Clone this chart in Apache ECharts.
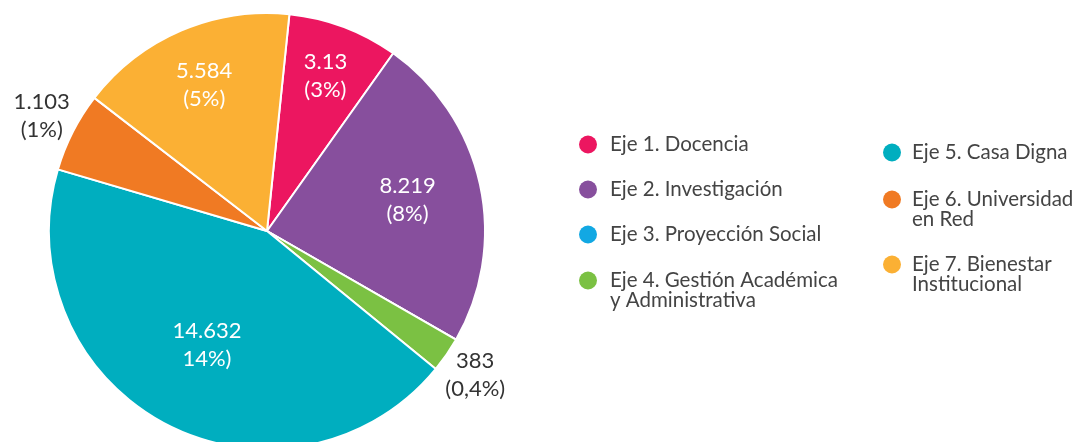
<!DOCTYPE html>
<html>
<head>
<meta charset="utf-8">
<script src="https://cdn.jsdelivr.net/npm/echarts@6/dist/echarts.min.js"></script>
<style>
  html, body { margin: 0; background: #fff; }
  #chart { width: 1088px; height: 442px; }
</style>
</head>
<body>
<div id="chart"></div>
<script>
const ejes = [
  'Eje 1. Docencia',
  'Eje 2. Investigación',
  'Eje 3. Proyección Social',
  'Eje 4. Gestión Académica y Administrativa',
  'Eje 5. Casa Digna',
  'Eje 6. Universidad en Red',
  'Eje 7. Bienestar Institucional'
];
// legend text as printed (line breaks)
const legendText = [
  'Eje 1. Docencia',
  'Eje 2. Investigación',
  'Eje 3. Proyección Social',
  'Eje 4. Gestión Académica\ny Administrativa',
  'Eje 5. Casa Digna',
  'Eje 6. Universidad\nen Red',
  'Eje 7. Bienestar\nInstitucional'
];
// share of the circle for each slice (%)
const shares = [8.2, 23.5, 0, 2.6, 43.7, 5.9, 16.2];
// printed labels
const valueLabels = ['3.13', '8.219', '', '383', '14.632', '1.103', '5.584'];
const pctLabels = ['(3%)', '(8%)', '', '(0,4%)', '14%)', '(1%)', '(5%)'];

const colors = ['#ec1660', '#874f9d', '#12a8e3', '#7bc143', '#00aebf', '#f07a23', '#fbb034'];
const outside = [false, false, false, true, false, true, false];

// layout
const cx = 267, cy = 231, R = 218;
const startDeg = 5.9; // clockwise from 12 o'clock
const labelRadius = [0.76, 0.66, 0, 1.16, 0.59, 1.16, 0.73];
// legend: [left, icon centre y, item width]
const legendPos = [
  [579, 144, 34], [579, 189, 34], [579, 234, 34], [579, 280, 34],
  [883, 152, 30], [883, 199, 30], [883, 264, 30]
];

const total = shares.reduce((a, b) => a + b, 0);
const midDeg = [];
let acc = startDeg;
shares.forEach(s => {
  const a = s / total * 360;
  midDeg.push(acc + a / 2);
  acc += a;
});

const chart = echarts.init(document.getElementById('chart'));

const pieData = ejes.map((name, i) => ({
  name: name,
  value: shares[i],
  itemStyle: { color: colors[i] },
  label: shares[i] === 0 ? { show: false } : { color: outside[i] ? '#333333' : '#ffffff' }
}));

// one legend per item so two-line items keep the dot on their first line
const legends = ejes.map((name, i) => {
  const multi = legendText[i].indexOf('\n') >= 0;
  const [left, iconY, w] = legendPos[i];
  return {
    orient: 'vertical',
    icon: 'circle',
    itemWidth: w,
    itemHeight: 18,
    padding: 0,
    selectedMode: false,
    left: left,
    top: iconY - (multi ? 30 : 10),
    itemStyle: { borderWidth: 0 },
    textStyle: { fontFamily: 'Lato', fontSize: 20.5, color: '#444444', lineHeight: 20 },
    formatter: n => (multi ? '\n' : '') + legendText[ejes.indexOf(n)],
    data: [name]
  };
});

const option = {
  animation: false,
  legend: legends,
  series: [{
    type: 'pie',
    center: [cx, cy],
    radius: R,
    startAngle: 90 - startDeg,
    clockwise: true,
    avoidLabelOverlap: false,
    itemStyle: { borderColor: '#ffffff', borderWidth: 2 },
    emphasis: { disabled: true },
    label: {
      position: 'inside',
      fontFamily: 'Lato',
      fontSize: 22,
      lineHeight: 28,
      formatter: p => valueLabels[p.dataIndex] + '\n' + pctLabels[p.dataIndex]
    },
    labelLine: { show: false },
    labelLayout: p => {
      const t = midDeg[p.dataIndex] * Math.PI / 180;
      const r = R * labelRadius[p.dataIndex];
      return {
        x: cx + r * Math.sin(t),
        y: cy - r * Math.cos(t),
        align: 'center',
        verticalAlign: 'middle'
      };
    },
    data: pieData
  }]
};

chart.setOption(option);
</script>
</body>
</html>
